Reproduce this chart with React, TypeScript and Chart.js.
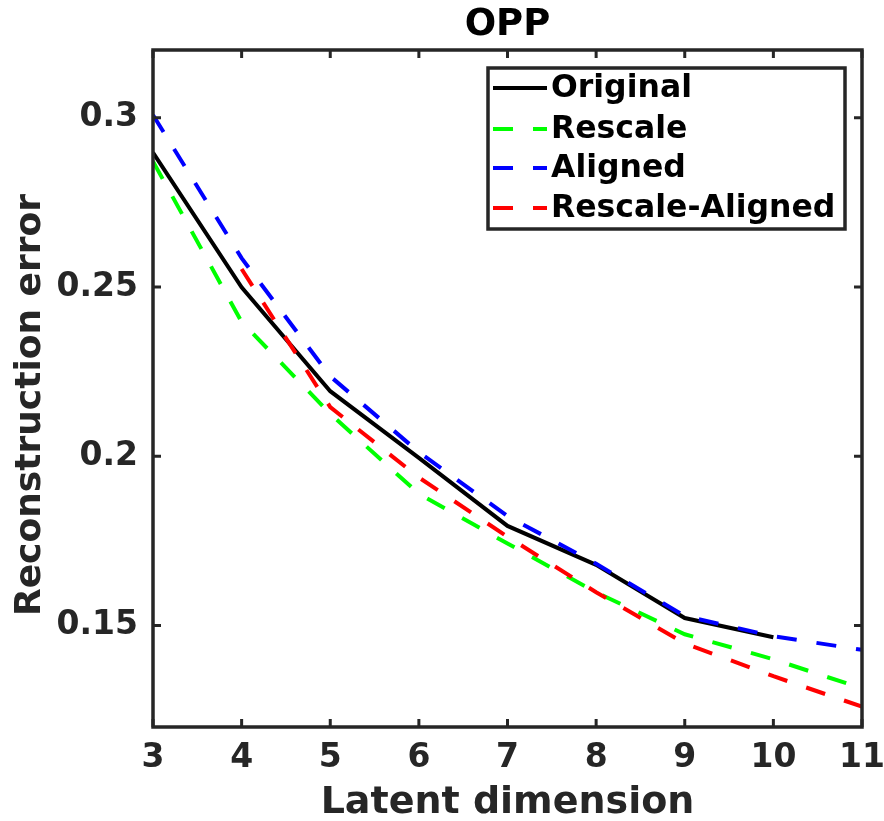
import React, { useEffect, useRef } from "react";
import { Chart, registerables } from "chart.js";

Chart.register(...registerables);

const latentDims = [3, 4, 5, 6, 7, 8, 9, 10, 11];
const original = [0.2897, 0.2499, 0.2192, 0.1995, 0.1794, 0.1679, 0.1522, 0.1465, null];
const rescale = [0.2871, 0.2397, 0.2125, 0.1889, 0.1742, 0.1598, 0.1474, 0.14, 0.1314];
const aligned = [0.3008, 0.2585, 0.2236, 0.2012, 0.1823, 0.1682, 0.1528, 0.1468, 0.1428];
const rescaleAligned = [null, 0.2553, 0.2145, 0.1937, 0.1762, 0.1598, 0.1447, 0.135, 0.126];

const seriesNames = ["Original", "Rescale", "Aligned", "Rescale-Aligned"];
const seriesColors = ["#000000", "#00ff00", "#0000ff", "#ff0000"];
const yTicks = [0.15, 0.2, 0.25, 0.3];
const yTickLabels = ["0.15", "0.2", "0.25", "0.3"];
const xTicks = [3, 4, 5, 6, 7, 8, 9, 10, 11];
const chartTitle = "OPP";
const yTitle = "Reconstruction error";

const FONT = "'DejaVu Sans', sans-serif";
const AXIS = "#262626";

const toPoints = (vals: (number | null)[]) =>
  latentDims.map((x, i) => ({ x, y: vals[i] }));

const boxPlugin = {
  id: "matlabBox",
  afterDatasetsDraw(chart: any) {
    const { ctx, chartArea, scales } = chart;
    const { left, right, top, bottom } = chartArea;
    ctx.save();
    ctx.strokeStyle = AXIS;
    ctx.lineWidth = 3;
    const tl = 8;
    ctx.beginPath();
    xTicks.forEach((v) => {
      const px = scales.x.getPixelForValue(v);
      ctx.moveTo(px, bottom);
      ctx.lineTo(px, bottom - tl);
      ctx.moveTo(px, top);
      ctx.lineTo(px, top + tl);
    });
    yTicks.forEach((v) => {
      const py = scales.y.getPixelForValue(v);
      ctx.moveTo(left, py);
      ctx.lineTo(left + tl, py);
      ctx.moveTo(right, py);
      ctx.lineTo(right - tl, py);
    });
    ctx.stroke();
    ctx.lineWidth = 3.5;
    ctx.strokeRect(left, top, right - left, bottom - top);

    // title
    ctx.fillStyle = "#000000";
    ctx.font = `bold 37px ${FONT}`;
    ctx.textAlign = "center";
    ctx.textBaseline = "middle";
    ctx.fillText(chartTitle, (left + right) / 2, 25);

    // y axis title
    ctx.save();
    ctx.translate(31, 405);
    ctx.rotate(-Math.PI / 2);
    ctx.fillStyle = AXIS;
    ctx.font = `bold 36px ${FONT}`;
    ctx.textAlign = "center";
    ctx.textBaseline = "middle";
    ctx.fillText(yTitle, 0, 0);
    ctx.restore();

    // legend
    const lx0 = 488, ly0 = 68, lx1 = 845, ly1 = 229;
    ctx.fillStyle = "#ffffff";
    ctx.fillRect(lx0, ly0, lx1 - lx0, ly1 - ly0);
    ctx.strokeStyle = AXIS;
    ctx.lineWidth = 3.5;
    ctx.strokeRect(lx0, ly0, lx1 - lx0, ly1 - ly0);
    const rows = [88, 129, 168, 208];
    chart.data.datasets.forEach((ds: any, i: number) => {
      const y = rows[i];
      ctx.beginPath();
      ctx.strokeStyle = ds.borderColor;
      ctx.lineWidth = 4;
      ctx.lineCap = "butt";
      ctx.setLineDash(ds.borderDash || []);
      ctx.moveTo(493, y);
      ctx.lineTo(547, y);
      ctx.stroke();
      ctx.setLineDash([]);
      ctx.fillStyle = "#000000";
      ctx.font = `bold 31.5px ${FONT}`;
      ctx.textBaseline = "middle";
      ctx.textAlign = "left";
      ctx.fillText(ds.label, 551, y + 1);
    });
    ctx.restore();
  },
};

export default function App() {
  const ref = useRef<HTMLCanvasElement | null>(null);
  useEffect(() => {
    if (!ref.current) return;
    const allSeries = [original, rescale, aligned, rescaleAligned];
    const chart = new Chart(ref.current, {
      type: "line",
      data: {
        datasets: allSeries.map((vals, i) => ({
          label: seriesNames[i],
          data: toPoints(vals),
          borderColor: seriesColors[i],
          backgroundColor: seriesColors[i],
          borderWidth: 4,
          borderDash: i === 0 ? [] : [20, 20],
          borderCapStyle: "butt",
          pointRadius: 0,
          tension: 0,
          fill: false,
          spanGaps: false,
          order: 4 - i,
        })),
      },
      options: {
        animation: false,
        responsive: false,
        devicePixelRatio: 1,
        layout: { padding: { left: 0, right: 22, top: 50, bottom: 0 } },
        plugins: {
          legend: { display: false },
          tooltip: { enabled: false },
          title: { display: false },
        },
        scales: {
          x: {
            type: "linear",
            min: 3,
            max: 11,
            afterBuildTicks: (s: any) => {
              s.ticks = xTicks.map((v) => ({ value: v }));
            },
            afterFit: (s: any) => {
              s.height = 94;
              s.paddingLeft = 0;
              s.paddingRight = 0;
            },
            grid: { display: false, drawTicks: false },
            border: { display: false },
            ticks: {
              color: AXIS,
              font: { family: FONT, size: 33, weight: "bold" },
              padding: 12,
              maxRotation: 0,
              autoSkip: false,
            },
            title: {
              display: true,
              text: "Latent dimension",
              color: AXIS,
              font: { family: FONT, size: 38, weight: "bold" },
              padding: { top: 0, bottom: -5 },
            },
          },
          y: {
            type: "linear",
            min: 0.12,
            max: 0.32,
            afterBuildTicks: (s: any) => {
              s.ticks = yTicks.map((v) => ({ value: v }));
            },
            afterFit: (s: any) => {
              s.width = 153;
              s.paddingTop = 0;
              s.paddingBottom = 0;
            },
            grid: { display: false, drawTicks: false },
            border: { display: false },
            ticks: {
              color: AXIS,
              font: { family: FONT, size: 33, weight: "bold" },
              padding: 15,
              callback: (v: any) => {
                const idx = yTicks.findIndex((t) => Math.abs(t - Number(v)) < 1e-9);
                return idx >= 0 ? yTickLabels[idx] : "";
              },
            },
            title: { display: false },
          },
        },
      },
      plugins: [boxPlugin],
    } as any);
    return () => chart.destroy();
  }, []);
  return (
    <div style={{ position: "fixed", left: 0, top: 0, width: 884, height: 821, background: "#fff" }}>
      <canvas ref={ref} width={884} height={821} style={{ width: 884, height: 821, display: "block" }} />
    </div>
  );
}
